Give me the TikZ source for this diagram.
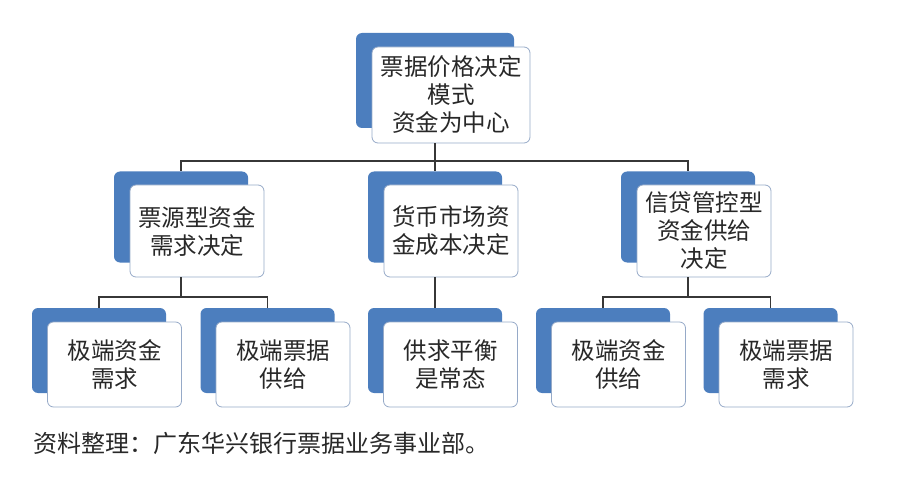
\documentclass[tikz,border=0pt]{standalone}
\usepackage{fontspec}
\setmainfont{Noto Sans CJK SC}
\usetikzlibrary{positioning}
\definecolor{boxblue}{RGB}{76,126,190}
\definecolor{boxline}{RGB}{150,170,200}
\definecolor{linkgray}{RGB}{55,55,55}
\definecolor{textgray}{RGB}{40,40,40}

\begin{document}
\begin{tikzpicture}[x=1pt, y=-1pt, align=center,
    back/.style={fill=boxblue, rounded corners=6pt, inner sep=0pt},
    card/.style={fill=white, draw=boxline, line width=0.8pt, rounded corners=6pt,
        inner sep=0pt, text=textgray, font=\fontsize{23.5pt}{28pt}\selectfont},
    link/.style={draw=linkgray, line width=1.3pt}]
    \useasboundingbox (0,0) rectangle (900,484);

    % level 1
    \node(topb) [back, minimum width=158pt, minimum height=95pt] at (435,80.5) {};
    \node(top)  [card, minimum width=158pt, minimum height=96pt]
        at ([xshift=16pt, yshift=-14.5pt]topb.center) {票据价格决定\\模式\\资金为中心};

    % level 2
    \node(Ab) [back, minimum width=134pt, minimum height=91pt] at (181,217) {};
    \node(A)  [card, minimum width=134pt, minimum height=92pt]
        at ([xshift=16pt, yshift=-14pt]Ab.center) {票源型资金\\需求决定};
    \node(Bb) [back, minimum width=134pt, minimum height=91pt] at (435,217) {};
    \node(B)  [card, minimum width=134pt, minimum height=92pt]
        at ([xshift=16pt, yshift=-14pt]Bb.center) {货币市场资\\金成本决定};
    \node(Cb) [back, minimum width=134pt, minimum height=91pt] at (688,217) {};
    \node(C)  [card, minimum width=134pt, minimum height=92pt]
        at ([xshift=16pt, yshift=-14pt]Cb.center) {信贷管控型\\资金供给\\决定};

    % level 3
    \node(A1b) [back, minimum width=134pt, minimum height=85pt] at (99,350.5) {};
    \node(A1)  [card, minimum width=134pt, minimum height=85pt]
        at ([xshift=15.5pt, yshift=-14pt]A1b.center) {极端资金\\需求};
    \node(A2b) [back, minimum width=134pt, minimum height=85pt] at (267.5,350.5) {};
    \node(A2)  [card, minimum width=134pt, minimum height=85pt]
        at ([xshift=15.5pt, yshift=-14pt]A2b.center) {极端票据\\供给};
    \node(B1b) [back, minimum width=134pt, minimum height=85pt] at (435,350.5) {};
    \node(B1)  [card, minimum width=134pt, minimum height=85pt]
        at ([xshift=15.5pt, yshift=-14pt]B1b.center) {供求平衡\\是常态};
    \node(C1b) [back, minimum width=134pt, minimum height=85pt] at (603,350.5) {};
    \node(C1)  [card, minimum width=134pt, minimum height=85pt]
        at ([xshift=15.5pt, yshift=-14pt]C1b.center) {极端资金\\供给};
    \node(C2b) [back, minimum width=134pt, minimum height=85pt] at (770.5,350.5) {};
    \node(C2)  [card, minimum width=134pt, minimum height=85pt]
        at ([xshift=15.5pt, yshift=-14pt]C2b.center) {极端票据\\需求};

    % source
    \node(note) [anchor=west, inner sep=0pt, text=textgray,
        font=\fontsize{24pt}{28pt}\selectfont] at (33,443) {资料整理：广东华兴银行票据业务事业部。};

    % links
    \coordinate(bus0) at (435,161);
    \coordinate(busA) at (181,297);
    \coordinate(busC) at (688,297);
    \draw [link] (topb.south |- top.south) -- (bus0);
    \draw [link] (bus0) -| (Ab.north);
    \draw [link] (bus0) -- (Bb.north);
    \draw [link] (bus0) -| (Cb.north);
    \draw [link] (Ab.south |- A.south) -- (busA);
    \draw [link] (busA) -| (A1b.north);
    \draw [link] (busA) -| (A2b.north);
    \draw [link] (Bb.south |- B.south) -- (B1b.north);
    \draw [link] (Cb.south |- C.south) -- (busC);
    \draw [link] (busC) -| (C1b.north);
    \draw [link] (busC) -| (C2b.north);
\end{tikzpicture}
\end{document}
